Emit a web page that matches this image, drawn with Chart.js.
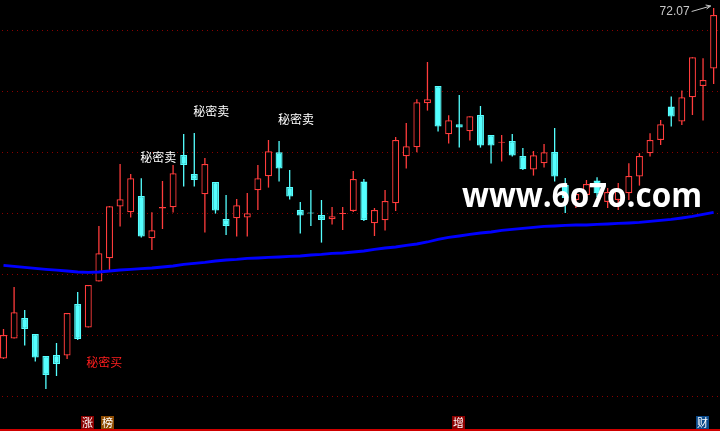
<!DOCTYPE html>
<html><head><meta charset="utf-8">
<script src="https://cdn.jsdelivr.net/npm/chart.js@4/dist/chart.umd.min.js"></script>
<style>html,body{margin:0;padding:0;background:#000;overflow:hidden}#wrap{width:720px;height:431px}</style>
</head><body><div id="wrap"><canvas id="c" width="720" height="431"></canvas></div>
<script>
// ---- data (prices) ----
const opens = [54.54,55.54,56.57,55.77,54.67,54.72,54.69,57.27,56.09,58.39,59.56,62.14,61.86,62.67,60.56,62.04,62.11,64.72,63.77,62.76,63.37,61.52,61.56,61.59,62.96,63.66,64.86,63.12,61.97,61.84,61.72,61.51,61.77,61.92,63.39,61.31,61.46,62.31,64.66,65.11,67.31,68.17,65.76,66.26,65.91,66.72,65.72,65.33,65.42,64.67,63.99,64.31,64.87,63.22,62.47,62.72,63.44,62.37,62.47,62.81,63.64,64.81,65.47,67.14,66.39,67.61,68.17,69.04];
const closes = [55.72,56.86,56.02,54.59,53.72,54.27,56.82,55.52,58.22,59.81,62.16,62.51,63.56,60.64,60.96,62.12,63.81,64.22,63.47,64.27,61.94,61.17,62.21,61.81,63.56,64.91,64.04,62.64,61.69,61.79,61.47,61.66,61.82,63.52,61.47,61.97,62.42,65.47,65.16,67.36,67.51,66.14,66.46,66.09,66.66,65.19,65.19,65.38,64.69,64.01,64.71,64.86,63.64,62.57,62.77,63.27,62.81,62.87,62.97,63.67,64.67,65.47,66.26,66.64,67.61,69.61,68.47,71.72];
const highs = [56.02,58.12,56.97,55.77,54.67,55.32,56.82,57.87,58.22,61.17,62.17,64.27,63.77,63.56,61.86,63.42,64.22,65.77,65.82,64.57,63.37,62.72,62.52,62.82,64.22,65.47,65.42,63.97,62.37,62.97,62.47,62.12,62.12,63.92,63.52,62.07,62.97,65.62,66.32,67.51,69.37,68.17,66.71,67.72,66.66,67.17,65.72,65.72,65.77,65.07,64.92,65.27,66.07,63.57,62.97,63.47,63.61,63.07,63.32,64.31,64.81,65.81,66.47,67.64,67.94,69.61,69.56,72.07];
const lows = [54.52,55.54,55.19,54.39,53.02,53.67,54.52,55.47,56.09,58.39,58.97,61.14,61.59,60.59,59.97,61.02,61.84,63.14,63.14,60.84,61.79,60.72,60.64,60.64,61.97,63.09,63.39,62.49,60.79,61.17,60.34,61.24,60.97,61.87,61.42,60.67,60.94,61.92,64.04,64.86,66.94,65.89,65.29,65.09,65.44,65.09,64.30,64.39,64.64,63.97,63.69,64.09,63.39,61.82,62.07,62.47,62.62,62.07,61.97,62.47,63.19,64.64,65.22,66.14,66.22,66.72,66.44,68.27];
const maValues = [59.20,59.15,59.10,59.05,59.00,58.96,58.92,58.87,58.85,58.87,58.92,58.97,59.00,59.04,59.07,59.12,59.17,59.25,59.30,59.35,59.42,59.47,59.50,59.55,59.57,59.60,59.62,59.65,59.67,59.72,59.75,59.80,59.82,59.87,59.92,60.00,60.07,60.12,60.20,60.27,60.37,60.50,60.60,60.67,60.75,60.82,60.87,60.95,61.00,61.05,61.10,61.15,61.17,61.20,61.22,61.22,61.25,61.27,61.30,61.32,61.35,61.40,61.45,61.50,61.57,61.65,61.75,61.85];
const gridLevels = [70.97,67.92,64.87,61.82,58.77,55.72,52.67];
// signal texts
const signalTexts = ["秘密卖","秘密卖","秘密卖","秘密买"];
const signalIdx = [14.6,19.6,27.6,9.5];
const signalVal = [64.62,66.92,66.52,54.37];
const signalColors = ["#ffffff","#ffffff","#ffffff","#ff1e1e"];
// bottom badges
const badgeTexts = ["涨","榜","增","财"];
const badgeIdx = [7.85,9.8,42.9,65.9];
const badgeColors = ["#8c0000","#8c4a00","#8c0000","#0c4a8a"];
const maxLabel = "72.07";
const watermark = "www.6o7o.com";

const UP = "#ff3c3c", DOWN = "#54ffff";
const idx = opens.map((_, i) => i);
const isUp = idx.map(i => closes[i] >= opens[i]);

const decor = {
  id: "decor",
  beforeDraw(chart) {
    const c = chart.ctx;
    c.save(); c.fillStyle = "#000"; c.fillRect(0, 0, chart.width, chart.height); c.restore();
  },
  beforeDatasetsDraw(chart) {
    const c = chart.ctx, ys = chart.scales.y, a = chart.chartArea;
    c.save();
    c.strokeStyle = "#8a0000"; c.lineWidth = 1; c.setLineDash([1, 4]);
    gridLevels.forEach(v => {
      const y = Math.round(ys.getPixelForValue(v)) + 0.5;
      c.beginPath(); c.moveTo(a.left + 2, y); c.lineTo(a.right, y); c.stroke();
    });
    c.restore();
  },
  afterDatasetsDraw(chart) {
    const c = chart.ctx, xs = chart.scales.x, ys = chart.scales.y, a = chart.chartArea;
    c.save();
    c.font = '12px "Noto Sans CJK SC"'; c.textAlign = "center"; c.textBaseline = "middle";
    signalTexts.forEach((t, k) => {
      c.fillStyle = signalColors[k];
      c.fillText(t, xs.getPixelForValue(signalIdx[k]), ys.getPixelForValue(signalVal[k]));
    });
    const last = highs.length - 1;
    const hx = xs.getPixelForValue(last), hy = ys.getPixelForValue(highs[last]);
    c.fillStyle = "#c8c8c8"; c.font = '12px "Liberation Sans"'; c.textAlign = "right"; c.textBaseline = "alphabetic";
    c.fillText(maxLabel, hx - 24, hy + 7);
    c.strokeStyle = "#c8c8c8"; c.lineWidth = 1;
    c.beginPath(); c.moveTo(hx - 22, hy + 3.5); c.lineTo(hx - 3, hy - 2); c.stroke();
    c.beginPath(); c.moveTo(hx - 8, hy - 3); c.lineTo(hx - 3, hy - 2); c.lineTo(hx - 7, hy + 1); c.stroke();
    c.fillStyle = "#ffffff"; c.font = 'bold 34px "Open Sans"'; c.textAlign = "left";
    c.fillText(watermark, 462, 207, 240);
    c.font = '11px "Noto Sans CJK SC"'; c.textAlign = "center"; c.textBaseline = "middle";
    badgeTexts.forEach((t, k) => {
      const x = Math.round(xs.getPixelForValue(badgeIdx[k]));
      c.fillStyle = badgeColors[k]; c.fillRect(x - 6, a.bottom + 16, 13, 13);
      c.fillStyle = "#ffffff"; c.fillText(t, x + 0.5, a.bottom + 22.5);
    });
    c.fillStyle = "#d00000"; c.fillRect(0, chart.height - 2, chart.width, 2);
    c.restore();
  }
};

new Chart(document.getElementById("c"), {
  type: "bar",
  data: {
    datasets: [
      { type: "line", label: "MA", data: idx.map(i => ({ x: i, y: maValues[i] })), borderColor: "#0000ff", borderWidth: 2.8, pointRadius: 0, tension: 0, order: 0 },
      { label: "body", data: idx.map(i => ({ x: i, y: [opens[i], closes[i]] })), backgroundColor: idx.map(i => isUp[i] ? "#000000" : DOWN), borderColor: idx.map(i => isUp[i] ? UP : DOWN), borderWidth: 1.3, borderSkipped: false, barThickness: 7, grouped: false, inflateAmount: 0, order: 1 },
      { label: "wick", data: idx.map(i => ({ x: i, y: [lows[i], highs[i]] })), backgroundColor: idx.map(i => isUp[i] ? UP : DOWN), borderWidth: 0, barThickness: 1.3, grouped: false, inflateAmount: 0, order: 2 }
    ]
  },
  options: {
    responsive: false, animation: false, events: [],
    plugins: { legend: { display: false }, tooltip: { enabled: false } },
    layout: { padding: { left: 0, right: 0, top: 0, bottom: 31 } },
    scales: {
      x: { type: "linear", min: -0.33, max: 67.6, offset: false, display: false, grid: { offset: false } },
      y: { min: 52.47, max: 72.47, display: false }
    }
  },
  plugins: [decor]
});
</script></body></html>
